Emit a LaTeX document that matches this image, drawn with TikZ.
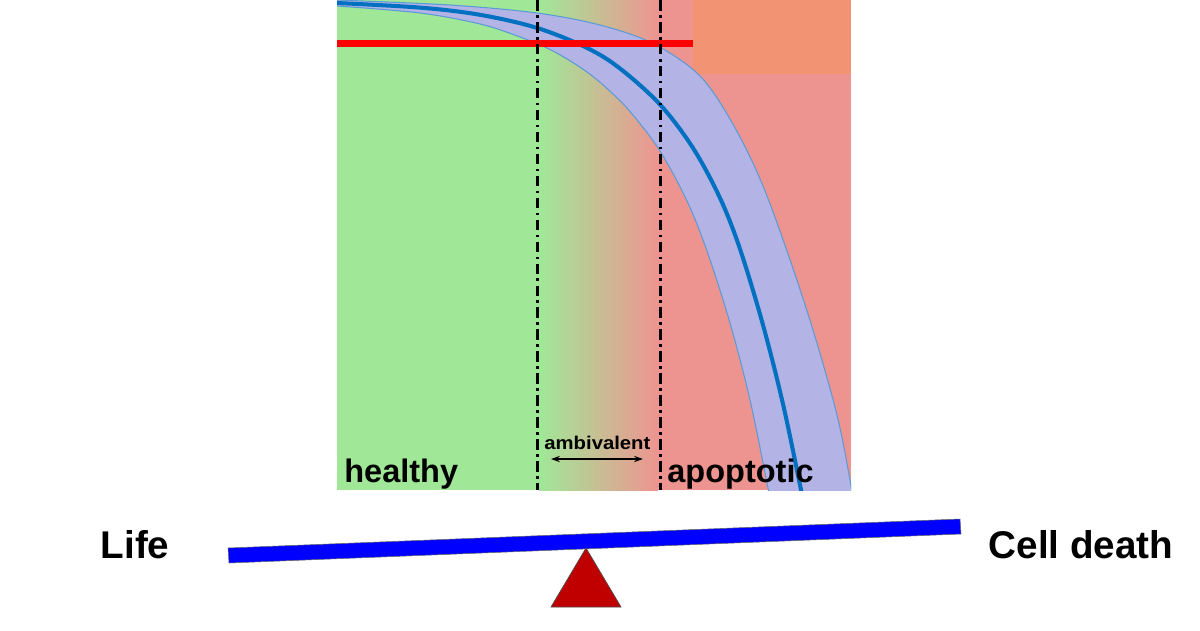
\documentclass[tikz,border=0pt]{standalone}
\usepackage{fontspec}
\setmainfont{Liberation Sans}
\usetikzlibrary{arrows.meta}
\definecolor{hgreen}{HTML}{A0E898}
\definecolor{ared}{HTML}{EE9490}
\definecolor{aorange}{HTML}{F29474}
\definecolor{bandfill}{HTML}{B3B3E6}
\definecolor{bandedge}{HTML}{5B9BD5}
\definecolor{centerline}{HTML}{0070C0}
\definecolor{tri}{HTML}{C00000}
\tikzset{
  dashdotline/.style={line width=1.7pt, black, dash pattern=on 6pt off 2.5pt on 1.5pt off 2.5pt},
  biglabel/.style={font=\bfseries\fontsize{18.5}{20}\selectfont, anchor=base west, inner sep=0pt},
  sidelabel/.style={font=\bfseries\fontsize{22}{24}\selectfont, anchor=base, inner sep=0pt},
  curve/.style={smooth, tension=0.55},
}
\def\upperpts{(337,0) (450,5) (537,13) (600,25) (650,42) (690,67) (713,92) (740,137) (763,186) (787,251) (813,330) (837,415) (850,480) (853,500)}
\def\lowerpts{(337,6) (420,13) (480,24) (520,37) (553,51) (587,72) (613,94) (633,115) (660,151) (687,201) (707,251) (730,323) (750,400) (767,483) (770,500)}
\def\lowerrev{(770,500) (767,483) (750,400) (730,323) (707,251) (687,201) (660,151) (633,115) (613,94) (587,72) (553,51) (520,37) (480,24) (420,13) (337,6)}
\def\centerpts{(337,3) (420,7.6) (480,14.8) (537,27.9) (587,47.9) (620,68.5) (660,104.5) (693,148) (720,198) (740,249) (763,325) (783,404) (800,485) (803,500)}
\begin{document}
\begin{tikzpicture}[x=0.02cm,y=-0.02cm]
\useasboundingbox (0,0) rectangle (1200,630);
% backgrounds
\fill[hgreen] (337,0) rectangle (540,490);
\shade[left color=hgreen, right color=ared] (539,0) rectangle (658,490);
\fill[ared] (657,0) rectangle (851,490);
\fill[aorange] (693,0) rectangle (851,74);
% band
\begin{scope}
\clip (337,0) rectangle (851,490);
\fill[bandfill] plot[curve] coordinates {\upperpts} -- plot[curve] coordinates {\lowerrev} -- cycle;
\draw[bandedge, line width=0.6pt] plot[curve] coordinates {\upperpts};
\draw[bandedge, line width=0.6pt] plot[curve] coordinates {\lowerpts};
\draw[centerline, line width=2.3pt] plot[curve] coordinates {\centerpts};
\end{scope}
% red threshold line
\coordinate (r1) at (337,43.5);
\coordinate (r2) at (693,43.5);
\draw[red, line width=4pt] (r1) -- (r2);
% dash-dot lines
\coordinate (d1t) at (537,0);
\coordinate (d1b) at (537,490);
\coordinate (d2t) at (660,0);
\coordinate (d2b) at (660,490);
\draw[dashdotline] (d1t) -- (d1b);
\draw[dashdotline] (d2t) -- (d2b);
% labels
\node[biglabel] (healthy) at (344,482) {healthy};
\node[biglabel] (apop) at (667,482) {apoptotic};
\node[font=\bfseries\fontsize{10.5}{11}\selectfont, anchor=base west, inner sep=0pt, xscale=1.1] (amb) at (544,449) {ambivalent};
\coordinate (aL) at (551,459);
\coordinate (aR) at (643,459);
\draw[{Stealth[length=5pt,width=3.5pt]}-{Stealth[length=5pt,width=3.5pt]}, line width=0.9pt] (aL) -- (aR);
% seesaw
\fill[blue, draw=black!60, line width=0.3pt] (228,548) -- (960,519) -- (961,534) -- (229,563) -- cycle;
\fill[tri, draw=black!70, line width=0.4pt] (586,548) -- (621,607) -- (551,607) -- cycle;
\node[sidelabel] (life) at (135,558) {Life};
\node[sidelabel] (death) at (1081,558) {Cell death};
\end{tikzpicture}
\end{document}
